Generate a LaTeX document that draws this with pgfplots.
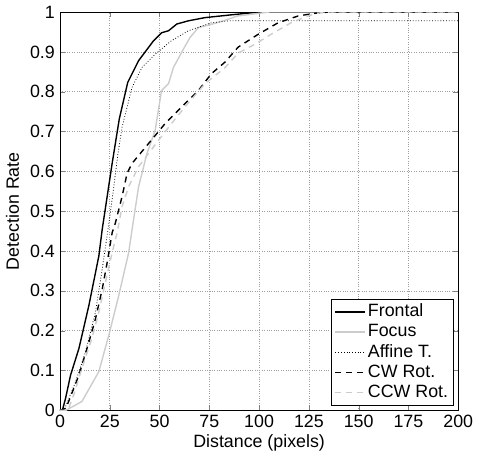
\documentclass[border=0pt]{standalone}
\usepackage{pgfplots}
\pgfplotsset{compat=1.18}
\usepackage{fontspec}
\setmainfont{Liberation Sans}
\definecolor{lgray}{gray}{0.8}
\begin{document}
\fontsize{18}{21}\selectfont
\begin{tikzpicture}
\begin{axis}[
    scale only axis,
    width=401bp, height=401bp,
    xmin=0, xmax=200, ymin=0, ymax=1,
    xtick={0,25,...,200},
    ytick={0,0.1,...,1},
    /pgf/number format/assume math mode=true,
    yticklabel style={/pgf/number format/fixed, /pgf/number format/precision=1, xshift=1bp},
    xticklabel style={yshift=1bp},
    tick align=inside,
    xtick pos=both, ytick pos=both,
    major tick length=5bp,
    grid=major,
    grid style={dotted, gray!75, line width=0.6pt},
    axis line style={line width=0.6pt},
    xlabel={Distance (pixels)},
    ylabel={Detection Rate},
    xlabel style={yshift=6bp},
    ylabel style={yshift=-1bp},
    legend cell align=left,
    legend style={draw=black, line width=0.8pt, font=\fontsize{18}{21}\selectfont,
        row sep=1bp, inner xsep=3bp, inner ysep=3bp, anchor=south east, at={(0.988,0.012)}},
    legend image code/.code={\draw[#1] plot coordinates {(0bp,0bp) (15bp,0bp) (30bp,0bp)};},
]
\addplot[black, line width=1.4pt] coordinates {(0,0) (1.2,0) (2.8,0.03) (5.3,0.088) (9.5,0.155) (14.5,0.263) (19.5,0.387) (21.2,0.454) (26.2,0.62) (29.8,0.732) (34,0.823) (39.5,0.878) (47,0.928) (51,0.948) (54.5,0.953) (58.7,0.97) (64.5,0.978) (72.8,0.986) (86,0.993) (100,1) (200,1)};
\addlegendentry{Frontal}
\addplot[lgray, line width=1.4pt] coordinates {(0,0) (3,0) (11,0.022) (19.5,0.097) (24.5,0.188) (29.5,0.288) (34.5,0.396) (36.2,0.454) (39.5,0.562) (43.7,0.645) (47.8,0.703) (51,0.803) (54.5,0.82) (57,0.861) (62,0.907) (65.3,0.936) (69.5,0.961) (76,0.969) (84,0.981) (89,0.99) (105,1) (200,1)};
\addlegendentry{Focus}
\addplot[black, dotted, line width=0.8pt] coordinates {(0,0) (2,0) (4.5,0.03) (7.8,0.071) (12.8,0.146) (17.8,0.246) (21.2,0.354) (24,0.45) (27,0.56) (29,0.64) (31.2,0.711) (36.2,0.811) (41.2,0.861) (47.8,0.894) (56,0.928) (64.5,0.953) (76,0.973) (85,0.978) (200,0.978)};
\addlegendentry{Affine T.}
\addplot[black, line width=1.4pt, dash pattern=on 6bp off 5bp] coordinates {(0,0) (3,0.005) (9.5,0.088) (14.5,0.171) (17.8,0.229) (21.2,0.304) (23.7,0.371) (26.2,0.446) (27.8,0.47) (31.2,0.537) (33.7,0.595) (36.2,0.62) (44.5,0.67) (52.8,0.72) (62.8,0.77) (69.5,0.803) (76,0.845) (82.8,0.874) (89.5,0.912) (99.5,0.944) (109.5,0.973) (119.5,0.99) (128,0.997) (135,1) (200,1)};
\addlegendentry{CW Rot.}
\addplot[lgray, line width=1.4pt, dash pattern=on 6bp off 5bp] coordinates {(0,0) (4,0) (7,0.04) (11,0.105) (16,0.18) (19.5,0.246) (22.8,0.321) (26.2,0.396) (28.7,0.446) (31.2,0.512) (34.5,0.562) (39.5,0.612) (44.5,0.645) (49.5,0.678) (56,0.72) (62.8,0.762) (72.8,0.82) (82.8,0.86) (89.5,0.897) (97.8,0.919) (106,0.944) (116,0.973) (124.5,0.99) (129,0.997) (135,1) (200,1)};
\addlegendentry{CCW Rot.}
\end{axis}
\end{tikzpicture}
\end{document}
